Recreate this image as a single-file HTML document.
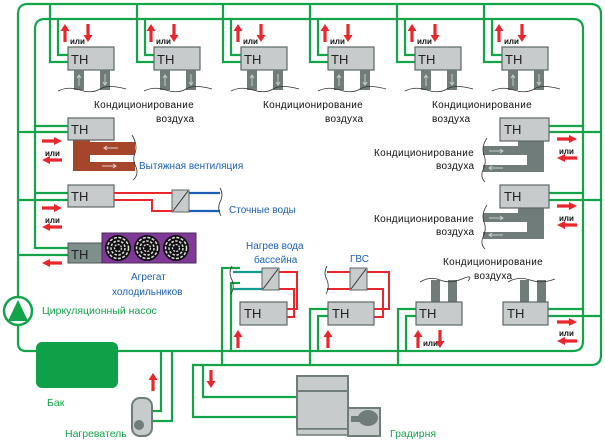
<!DOCTYPE html>
<html><head><meta charset="utf-8"><style>
html,body{margin:0;padding:0;background:#fff;width:605px;height:442px;overflow:hidden}
svg{display:block}
text{font-family:"Liberation Sans",sans-serif}
.g{stroke:#13a44a;stroke-width:2.2;fill:none}
.r{stroke:#e8262b;stroke-width:2;fill:none}
.b{stroke:#1d5fb5;stroke-width:2.2;fill:none}
.th{fill:#c7cbcb;stroke:#5d6666;stroke-width:1.2}
.tt{font-size:13px;fill:#222}
.lbl{font-size:10px;fill:#111;letter-spacing:0.3px}
.blue{font-size:10px;fill:#1d5fb5}
.grn{font-size:10.5px;fill:#13a44a}
.ili{font-size:8px;font-weight:bold;fill:#111}
.wave{stroke:#333;stroke-width:0.8;fill:none}
</style></head><body>
<svg width="605" height="442" viewBox="0 0 605 442" xmlns="http://www.w3.org/2000/svg">
<defs>
<polygon id="au" fill="#e8262b" points="-1.6,18 1.6,18 1.6,7 4.5,7 0,0 -4.5,7 -1.6,7"/>
<polygon id="ad" fill="#e8262b" points="-1.6,0 1.6,0 1.6,11 4.5,11 0,18 -4.5,11 -1.6,11"/>
<polygon id="ar" fill="#e8262b" points="0,-1.6 12,-1.6 12,-4 20,0 12,4 12,1.6 0,1.6"/>
<polygon id="al" fill="#e8262b" points="20,-1.6 8,-1.6 8,-4 0,0 8,4 8,1.6 20,1.6"/>
<g id="feetD">
<rect x="6" y="0" width="10" height="20" fill="#6f7c79"/>
<rect x="32" y="0" width="10" height="20" fill="#6f7c79"/>
<path d="M11,16 V5 M9,8 L11,5 L13,8" stroke="#c8cdcc" stroke-width="1" fill="none"/>
<path d="M37,4 V15 M35,12 L37,15 L39,12" stroke="#c8cdcc" stroke-width="1" fill="none"/>
<path class="wave" d="M-10,21 Q0,16 12,20 T32,19 T58,19"/>
</g>
<g id="fan">
<circle r="13" fill="#111"/>
<circle r="10.5" fill="none" stroke="#ddd" stroke-width="1.5" stroke-dasharray="3 1.5"/>
<circle r="7" fill="none" stroke="#ddd" stroke-width="1.5" stroke-dasharray="2.5 1.5"/>
<circle r="3.5" fill="none" stroke="#ddd" stroke-width="1.3" stroke-dasharray="2 1.2"/>
</g>
</defs>

<path class="g" d="M18,299 V14 Q18,4 28,4 H590 Q601,4 601,14 V355 Q601,365 591,365 H193 V417 H297"/>
<path class="g" d="M35,249 V29 Q35,19 45,19 H573 Q583,19 583,29 V341 Q583,351 573,351 H118"/>
<path class="g" d="M18,323 V343 Q18,351 26,351 H36"/>
<rect x="36" y="342" width="82" height="46" rx="6" fill="#0fa048"/>
<circle cx="18" cy="311" r="14" fill="#fff" stroke="#13a44a" stroke-width="2.5"/>
<polygon points="18,300 8,321 28,321" fill="#13a44a"/>

<path class="g" d="M50,4 V62 H68 M58,19 V55 H68"/>
<path class="g" d="M137,4 V62 H154 M145,19 V55 H154"/>
<path class="g" d="M223,4 V62 H241 M231,19 V55 H241"/>
<path class="g" d="M310,4 V62 H328 M318,19 V55 H328"/>
<path class="g" d="M397,4 V62 H415 M405,19 V55 H415"/>
<path class="g" d="M484,4 V62 H502 M492,19 V55 H502"/>

<g transform="translate(68,0)"><use href="#au" x="-3" y="24"/><use href="#ad" x="20" y="24"/><text class="ili" x="2" y="44">или</text><rect class="th" x="0" y="47" width="46" height="23"/><text class="tt" x="3" y="64">ТН</text><use href="#feetD" y="70"/></g>
<g transform="translate(154,0)"><use href="#au" x="-3" y="24"/><use href="#ad" x="20" y="24"/><text class="ili" x="2" y="44">или</text><rect class="th" x="0" y="47" width="46" height="23"/><text class="tt" x="3" y="64">ТН</text><use href="#feetD" y="70"/></g>
<g transform="translate(241,0)"><use href="#au" x="-3" y="24"/><use href="#ad" x="20" y="24"/><text class="ili" x="2" y="44">или</text><rect class="th" x="0" y="47" width="46" height="23"/><text class="tt" x="3" y="64">ТН</text><use href="#feetD" y="70"/></g>
<g transform="translate(328,0)"><use href="#au" x="-3" y="24"/><use href="#ad" x="20" y="24"/><text class="ili" x="2" y="44">или</text><rect class="th" x="0" y="47" width="46" height="23"/><text class="tt" x="3" y="64">ТН</text><use href="#feetD" y="70"/></g>
<g transform="translate(415,0)"><use href="#au" x="-3" y="24"/><use href="#ad" x="20" y="24"/><text class="ili" x="2" y="44">или</text><rect class="th" x="0" y="47" width="46" height="23"/><text class="tt" x="3" y="64">ТН</text><use href="#feetD" y="70"/></g>
<g transform="translate(502,0)"><use href="#au" x="-3" y="24"/><use href="#ad" x="20" y="24"/><text class="ili" x="2" y="44">или</text><rect class="th" x="0" y="47" width="46" height="23"/><text class="tt" x="3" y="64">ТН</text><use href="#feetD" y="70"/></g>

<text class="lbl" x="94" y="108">Кондиционирование</text><text class="lbl" x="156" y="122">воздуха</text>
<text class="lbl" x="263" y="108">Кондиционирование</text><text class="lbl" x="325" y="122">воздуха</text>
<text class="lbl" x="432" y="108">Кондиционирование</text><text class="lbl" x="432" y="122">воздуха</text>

<path class="g" d="M35,126 H68 M18,132 H68"/>
<path class="g" d="M35,193 H68 M18,200 H68"/>
<path class="g" d="M35,248 H68 M18,255 H68"/>
<use href="#ar" x="42" y="141"/><text class="ili" x="45" y="156">или</text><use href="#al" x="42" y="160"/>
<use href="#ar" x="42" y="208"/><text class="ili" x="45" y="223">или</text><use href="#al" x="42" y="227"/>
<use href="#al" x="42" y="263"/>

<path d="M73,140 H90 V162 H135 V171 H73 Z M90,142 H135 V155 H90 Z" fill="#a5462b"/>
<path d="M118,148 H104 M107,146 L104,148 L107,150" stroke="#e6d0c8" stroke-width="1" fill="none"/>
<path d="M102,166 H116 M113,164 L116,166 L113,168" stroke="#e6d0c8" stroke-width="1" fill="none"/>
<path class="wave" d="M132,135 Q138,145 135,153 Q132,160 136,167 Q139,175 133,180"/>
<rect class="th" x="68" y="118" width="46" height="22"/><text class="tt" x="71" y="134">ТН</text>
<text class="blue" x="139" y="169">Вытяжная вентиляция</text>

<rect class="th" x="68" y="185" width="46" height="22"/><text class="tt" x="71" y="201">ТН</text>
<path class="r" d="M114,193 H172 M114,200 H152 V211 H172"/>
<rect x="172" y="190" width="17" height="22" fill="#c7cbcb" stroke="#5d6666"/>
<path d="M173,211 L188,191" stroke="#333" stroke-width="1"/>
<path class="b" d="M189,193 H220 M189,211 H220"/>
<path class="wave" d="M220,188 Q224,195 220,202 Q217,208 221,216"/>
<text class="blue" x="229" y="213">Сточные воды</text>

<rect x="68" y="243" width="34" height="20" fill="#7f8f8c" stroke="#4d5755"/><text class="tt" x="71" y="259">ТН</text>
<rect x="102" y="233" width="94" height="30" fill="#7e3a96" stroke="#4d2a5a"/>
<use href="#fan" x="118" y="248"/><use href="#fan" x="147" y="248"/><use href="#fan" x="176" y="248"/>
<text class="blue" x="131" y="280">Агрегат</text><text class="blue" x="112" y="295">холодильников</text>
<text class="grn" x="42" y="314">Циркуляционный насос</text>

<path class="g" d="M549,126 H583 M549,132 H601"/>
<path class="g" d="M549,193 H583 M549,200 H601"/>
<use href="#ar" x="557" y="139"/><text class="ili" x="559" y="154">или</text><use href="#al" x="557" y="158"/>
<use href="#ar" x="557" y="206"/><text class="ili" x="559" y="221">или</text><use href="#al" x="557" y="225"/>
<g id="rduct"><path d="M527,141 H544 V172 H483 V165 H527 Z M518,141 H527 V155 H483 V146 H518 Z" fill="#6f7c79"/>
<path d="M489,151 H503 M500,149 L503,151 L500,153" stroke="#c8cdcc" stroke-width="1" fill="none"/>
<path d="M503,168 H489 M492,166 L489,168 L492,170" stroke="#c8cdcc" stroke-width="1" fill="none"/>
<path class="wave" d="M487,138 Q481,147 484,155 Q487,162 483,170 Q480,177 485,182"/></g>
<use href="#rduct" y="67"/>
<rect class="th" x="500" y="118" width="49" height="23"/><text class="tt" x="504" y="134">ТН</text>
<rect class="th" x="500" y="185" width="49" height="23"/><text class="tt" x="504" y="201">ТН</text>
<text class="lbl" x="374" y="156">Кондиционирование</text><text class="lbl" x="436" y="169">воздуха</text>
<text class="lbl" x="374" y="222">Кондиционирование</text><text class="lbl" x="436" y="235">воздуха</text>

<path class="g" d="M222,365 V268 H240 M231,351 V283 H240"/>
<path class="g" d="M310,365 V309 H328 M318,351 V316 H328"/>
<path class="g" d="M398,365 V309 H417 M406,351 V316 H417"/>
<path class="g" d="M548,309 H583 M548,316 H601"/>
<path class="g" d="M203,365 V397 H297"/>
<path class="g" d="M161,351 V411 H152 M172,351 V421 H152"/>

<text class="blue" x="246" y="249">Нагрев вода</text><text class="blue" x="254" y="263">бассейна</text>
<path class="r" d="M279,272 H297 V309 H287 M279,289 H294 V317 H287" />
<path d="M233,272 H262 M233,289 H262" stroke="#139b8f" stroke-width="2.2"/>
<path class="wave" d="M232,266 Q228,273 232,280 Q235,287 231,294"/>
<rect x="262" y="268" width="17" height="22" fill="#c7cbcb" stroke="#5d6666"/><path d="M263,289 L278,269" stroke="#333"/>
<rect class="th" x="240" y="302" width="47" height="23"/><text class="tt" x="244" y="318">ТН</text>
<use href="#au" x="238" y="330"/>

<text class="blue" x="350" y="262">ГВС</text>
<path class="r" d="M367,272 H389 V309 H374 M367,289 H383 V317 H374 M327,272 H350 M327,289 H350"/>
<path class="wave" d="M327,266 Q323,273 327,280 Q330,287 326,294"/>
<rect x="350" y="268" width="17" height="22" fill="#c7cbcb" stroke="#5d6666"/><path d="M351,289 L366,269" stroke="#333"/>
<rect class="th" x="328" y="302" width="46" height="23"/><text class="tt" x="332" y="318">ТН</text>
<use href="#au" x="328" y="330"/>

<rect x="431" y="280" width="9" height="22" fill="#6f7c79"/><rect x="448" y="280" width="9" height="22" fill="#6f7c79"/>
<path class="wave" d="M420,282 Q430,276 440,280 T462,279 T468,281"/>
<rect class="th" x="416" y="302" width="46" height="23"/><text class="tt" x="419" y="318">ТН</text>
<use href="#au" x="418" y="330"/><text class="ili" x="423" y="346">или</text><use href="#ad" x="440" y="330"/>
<text class="lbl" x="443" y="265">Кондиционирование</text><text class="lbl" x="474" y="279">воздуха</text>

<rect x="520" y="280" width="9" height="22" fill="#6f7c79"/><rect x="537" y="280" width="9" height="22" fill="#6f7c79"/>
<path class="wave" d="M508,282 Q518,276 530,280 T555,279"/>
<rect class="th" x="503" y="302" width="45" height="23"/><text class="tt" x="507" y="318">ТН</text>
<use href="#ar" x="557" y="322"/><text class="ili" x="559" y="336">или</text><use href="#al" x="557" y="341"/>

<use href="#ad" x="211" y="370"/>
<use href="#au" x="153" y="373"/>

<rect x="297" y="376" width="51" height="15" fill="#c7cbcb" stroke="#6f7c79" stroke-width="2"/>
<rect x="297" y="391" width="51" height="38" fill="#c7cbcb" stroke="#6f7c79" stroke-width="2"/>
<rect x="297" y="429" width="51" height="6" fill="#c7cbcb" stroke="#6f7c79" stroke-width="1.5"/>
<rect x="348" y="408" width="32" height="28" fill="#c7cbcb" stroke="#6f7c79" stroke-width="2"/>
<ellipse cx="368" cy="418" rx="10" ry="8" fill="#6f7c79"/><rect x="351" y="416" width="16" height="6" fill="#6f7c79"/>

<rect x="132" y="398" width="20" height="38" rx="8" fill="#c7cbcb" stroke="#6f7c79" stroke-width="2"/>
<circle cx="139" cy="425" r="5" fill="#6f7c79"/>

<text class="grn" x="47" y="406">Бак</text>
<text class="grn" x="65" y="437">Нагреватель</text>
<text class="grn" x="390" y="437">Градирня</text>
</svg>
</body></html>
